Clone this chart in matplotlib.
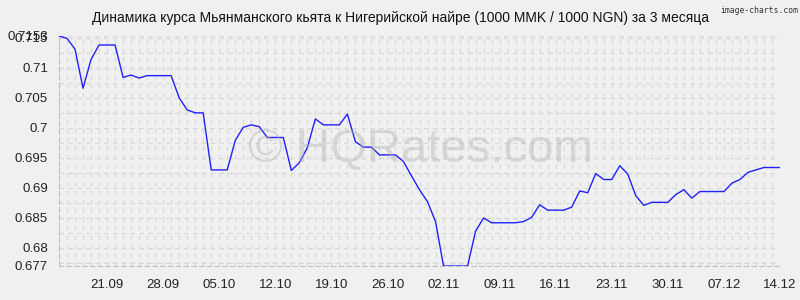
import numpy as np
import pandas as pd
import matplotlib
matplotlib.use('Agg')
import matplotlib.pyplot as plt
import matplotlib.ticker as ticker

# данные: курс 1000 MMK / 1000 NGN, по дням с 15.09 по 14.12
dates = pd.date_range('2020-09-15', '2020-12-14', freq='D')
rates = [
    0.7153, 0.7149, 0.7131, 0.7066, 0.7114, 0.7138, 0.7138, 0.7138, 0.7084, 0.7088,
    0.7083, 0.7087, 0.7087, 0.7087, 0.7087, 0.7050, 0.7030, 0.7025, 0.7025, 0.6930,
    0.6930, 0.6930, 0.6979, 0.7001, 0.7005, 0.7002, 0.6984, 0.6984, 0.6984, 0.6929,
    0.6942, 0.6967, 0.7015, 0.7005, 0.7005, 0.7005, 0.7023, 0.6977, 0.6968, 0.6968,
    0.6955, 0.6955, 0.6955, 0.6944, 0.6920, 0.6897, 0.6877, 0.6844, 0.6770, 0.6770,
    0.6770, 0.6770, 0.6828, 0.6850, 0.6842, 0.6842, 0.6842, 0.6842, 0.6844, 0.6851,
    0.6872, 0.6863, 0.6863, 0.6863, 0.6868, 0.6895, 0.6892, 0.6924, 0.6914, 0.6914,
    0.6937, 0.6923, 0.6887, 0.6871, 0.6876, 0.6876, 0.6876, 0.6889, 0.6897, 0.6883,
    0.6894, 0.6894, 0.6894, 0.6894, 0.6908, 0.6914, 0.6926, 0.6930, 0.6934, 0.6934,
    0.6934,
]
y_ticks = [0.677, 0.68, 0.685, 0.69, 0.695, 0.7, 0.705, 0.71, 0.715, 0.7153]
title = 'Динамика курса Мьянманского кьята к Нигерийской найре (1000 MMK / 1000 NGN) за 3 месяца'

plt.rcParams['font.family'] = ['Liberation Sans', 'DejaVu Sans']
bg = '#f0f0f0'

fig = plt.figure(figsize=(8, 3), dpi=100, facecolor=bg)
ax = fig.add_axes([59 / 800, 34 / 300, 721 / 800, 230 / 300])
ax.set_facecolor(bg)

x = np.arange(len(dates))
ax.plot(x, rates, color='#2020ff', lw=1.0, zorder=3)

ax.set_xlim(0, len(dates) - 1)
ax.set_ylim(0.677, 0.7153)

# подписи по оси x — каждую неделю
week_idx = [i for i in x if (i - 6) % 7 == 0]
ax.set_xticks(week_idx)
ax.set_xticklabels([dates[i].strftime('%d.%m') for i in week_idx])
ax.xaxis.set_minor_locator(ticker.MultipleLocator(1))

ax.set_yticks(y_ticks)
ax.set_yticklabels([('%g' % v) for v in y_ticks])
ax.yaxis.set_minor_locator(ticker.MultipleLocator(0.0025))

ax.grid(True, which='both', color='#d6d6d6', linestyle=(0, (4, 4)), lw=0.8)
ax.tick_params(axis='both', which='both', length=0, labelsize=9.5, colors='#222222')
ax.tick_params(axis='y', pad=8)
ax.tick_params(axis='x', pad=9)
for s in ['top', 'right']:
    ax.spines[s].set_visible(False)
for s in ['left', 'bottom']:
    ax.spines[s].set_color('#c0c0c0')
    ax.spines[s].set_linestyle((0, (4, 3)))
    ax.spines[s].set_linewidth(0.8)

fig.text(0.5, 282 / 300, title, ha='center', va='center', fontsize=10, color='#111111')
fig.text(798 / 800, 1 - 6 / 300, 'image-charts.com', ha='right', va='top', fontsize=5.8,
         family='DejaVu Sans Mono', color='#333333')
fig.text(420 / 800, 150 / 300, '© HQRates.com', ha='center', va='center', fontsize=34,
         color='#b0b0b0', alpha=0.4, zorder=2)

fig.savefig('out.png', dpi=100, facecolor=bg)
